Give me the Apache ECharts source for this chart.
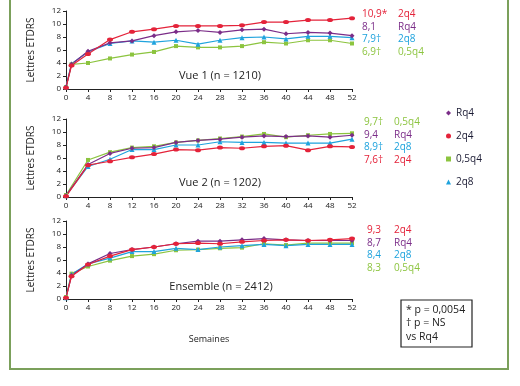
<!DOCTYPE html>
<html><head><meta charset="utf-8">
<script src="https://cdn.jsdelivr.net/npm/echarts@6/dist/echarts.min.js"></script>
<style>html,body{margin:0;padding:0;background:#fff}#c{width:520px;height:386px}</style>
</head><body><div id="c"></div>
<script>
// ---- data ----
var weeksA = [0, 1, 4, 8, 12, 16, 20, 24, 28, 32, 36, 40, 44, 48, 52];
var weeksB = [0, 4, 8, 12, 16, 20, 24, 28, 32, 36, 40, 44, 48, 52];
var seriesNames = ['Rq4', '2q4', '0,5q4', '2q8'];
var panelTitles = ['Vue 1 (n = 1210)', 'Vue 2 (n = 1202)', 'Ensemble (n = 2412)'];
var yTicks = [0, 2, 4, 6, 8, 10, 12];

// Vue 1 (weeksA)
var v1_Rq4  = [0.3, 3.8, 5.8, 7.1, 7.4, 8.2, 8.8, 9.0, 8.7, 9.1, 9.2, 8.5, 8.7, 8.6, 8.2];
var v1_2q4  = [0.2, 3.6, 5.4, 7.6, 8.8, 9.2, 9.7, 9.7, 9.7, 9.8, 10.3, 10.3, 10.6, 10.6, 10.9];
var v1_05q4 = [0.3, 3.8, 4.0, 4.7, 5.3, 5.7, 6.6, 6.4, 6.4, 6.6, 7.2, 7.0, 7.5, 7.5, 7.0];
var v1_2q8  = [0.3, 3.9, 5.7, 7.0, 7.4, 7.2, 7.5, 6.9, 7.5, 7.9, 8.0, 7.7, 8.1, 8.1, 7.9];
// Vue 2 (weeksB)
var v2_Rq4  = [0.2, 5.0, 6.7, 7.5, 7.6, 8.4, 8.7, 8.9, 9.2, 9.4, 9.3, 9.4, 9.2, 9.5];
var v2_2q4  = [0.1, 4.9, 5.5, 6.1, 6.6, 7.3, 7.2, 7.6, 7.5, 7.8, 7.9, 7.2, 7.8, 7.7];
var v2_05q4 = [0.3, 5.7, 6.9, 7.6, 7.8, 8.4, 8.7, 9.0, 9.3, 9.7, 9.2, 9.5, 9.7, 9.8];
var v2_2q8  = [0.2, 4.7, 5.8, 7.3, 7.3, 8.0, 8.0, 8.5, 8.4, 8.4, 8.3, 8.3, 8.3, 8.9];
// Ensemble (weeksA)
var e_Rq4  = [0.2, 3.6, 5.4, 7.0, 7.6, 8.0, 8.5, 8.9, 8.9, 9.1, 9.3, 9.1, 9.0, 9.0, 9.0];
var e_2q4  = [0.2, 3.5, 5.3, 6.6, 7.6, 8.0, 8.5, 8.6, 8.5, 8.8, 9.0, 9.1, 9.0, 9.1, 9.3];
var e_05q4 = [0.3, 3.9, 5.0, 5.9, 6.6, 6.9, 7.5, 7.6, 7.8, 7.9, 8.5, 8.3, 8.6, 8.6, 8.6];
var e_2q8  = [0.2, 3.8, 5.4, 6.3, 7.3, 7.3, 7.8, 7.6, 8.0, 8.2, 8.4, 8.2, 8.4, 8.4, 8.4];

// end-of-line annotations [value text, series name]
var endLabels1 = [['10,9*', '2q4'], ['8,1', 'Rq4'], ['7,9†', '2q8'], ['6,9†', '0,5q4']];
var endLabels2 = [['9,7†', '0,5q4'], ['9,4', 'Rq4'], ['8,9†', '2q8'], ['7,6†', '2q4']];
var endLabels3 = [['9,3', '2q4'], ['8,7', 'Rq4'], ['8,4', '2q8'], ['8,3', '0,5q4']];
var footnote = ['* p = 0,0054', '† p = NS', 'vs Rq4'];

// ---- styles ----
var FONT = 'Open Sans';
var colors = {'Rq4': '#7b2d88', '2q4': '#e4233a', '0,5q4': '#8cc43f', '2q8': '#1fa3dd'};
var symbols = {'Rq4': 'diamond', '2q4': 'circle', '0,5q4': 'rect', '2q8': 'triangle'};
var symSizes = {'Rq4': 5, '2q4': [6, 4], '0,5q4': 4, '2q8': 5};

var grids = [
  {left: 66, right: 168, top: 11, height: 78},
  {left: 66, right: 168, top: 119, height: 78},
  {left: 66, right: 168, top: 221, height: 78}
];

function mkX(i) {
  return {type: 'value', gridIndex: i, min: 0, max: 52, interval: 4,
    axisLine: {show: true, lineStyle: {color: '#222', width: 1}},
    axisTick: {show: true, length: 3, lineStyle: {color: '#222'}},
    axisLabel: {fontFamily: FONT, fontSize: 8, color: '#222', margin: 5},
    splitLine: {show: false},
    name: i === 2 ? 'Semaines' : '', nameLocation: 'middle', nameGap: 36,
    nameTextStyle: {fontFamily: FONT, fontSize: 9, color: '#222'}};
}
function mkY(i) {
  return {type: 'value', gridIndex: i, min: yTicks[0], max: yTicks[yTicks.length - 1], interval: 2,
    axisLine: {show: true, lineStyle: {color: '#222', width: 1}},
    axisTick: {show: true, length: 3, lineStyle: {color: '#222'}},
    axisLabel: {fontFamily: FONT, fontSize: 8, color: '#222', margin: 5},
    splitLine: {show: false},
    name: 'Lettres ETDRS', nameLocation: 'middle', nameGap: 30, nameRotate: 90,
    nameTextStyle: {fontFamily: FONT, fontSize: 10, color: '#222'}};
}

var panels = [
  {x: weeksA, d: {'Rq4': v1_Rq4, '2q4': v1_2q4, '0,5q4': v1_05q4, '2q8': v1_2q8}},
  {x: weeksB, d: {'Rq4': v2_Rq4, '2q4': v2_2q4, '0,5q4': v2_05q4, '2q8': v2_2q8}},
  {x: weeksA, d: {'Rq4': e_Rq4, '2q4': e_2q4, '0,5q4': e_05q4, '2q8': e_2q8}}
];
var drawOrder = ['0,5q4', '2q8', 'Rq4', '2q4'];
var series = [];
panels.forEach(function (p, gi) {
  drawOrder.forEach(function (n) {
    series.push({
      type: 'line', name: n, xAxisIndex: gi, yAxisIndex: gi,
      data: p.x.map(function (w, k) { return [w, p.d[n][k]]; }),
      symbol: symbols[n], symbolSize: symSizes[n], showSymbol: true,
      itemStyle: {color: colors[n]},
      lineStyle: {color: colors[n], width: 1.2},
      animation: false, silent: true
    });
  });
});

var graphics = [
  {type: 'rect', shape: {x: 10, y: -10, width: 498, height: 379},
   style: {fill: 'none', stroke: '#7ba05b', lineWidth: 2}, silent: true}
];
var titlePos = [[220, 76], [220, 183], [221, 287]];
panelTitles.forEach(function (t, i) {
  graphics.push({type: 'text', x: titlePos[i][0], y: titlePos[i][1],
    style: {text: t, fontFamily: FONT, fontSize: 11, fill: '#222', align: 'center', verticalAlign: 'middle'}});
});
function addEnd(list, y0, dy, xv, xn) {
  list.forEach(function (e, k) {
    var c = colors[e[1]];
    graphics.push({type: 'text', x: xv, y: y0 + k * dy,
      style: {text: e[0], fontFamily: FONT, fontSize: 10, fill: c, align: 'left', verticalAlign: 'middle'}});
    graphics.push({type: 'text', x: xn, y: y0 + k * dy,
      style: {text: e[1], fontFamily: FONT, fontSize: 10, fill: c, align: 'left', verticalAlign: 'middle'}});
  });
}
addEnd(endLabels1, 14, 12.7, 362, 398);
addEnd(endLabels2, 122, 12.7, 364, 394);
addEnd(endLabels3, 230, 12.7, 367, 394);

graphics.push({type: 'rect', shape: {x: 401, y: 300, width: 71, height: 47},
  style: {fill: '#fff', stroke: '#222', lineWidth: 1.2}});
footnote.forEach(function (t, k) {
  graphics.push({type: 'text', x: 406, y: 310 + k * 13.5,
    style: {text: t, fontFamily: FONT, fontSize: 10.5, fill: '#222', align: 'left', verticalAlign: 'middle'}});
});

var chart = echarts.init(document.getElementById('c'), null, {renderer: 'canvas'});
chart.setOption({
  backgroundColor: '#fff',
  animation: false,
  grid: grids,
  xAxis: [mkX(0), mkX(1), mkX(2)],
  yAxis: [mkY(0), mkY(1), mkY(2)],
  legend: {
    orient: 'vertical', left: 441, top: 103, itemGap: 13, itemWidth: 5, itemHeight: 5,
    selectedMode: false,
    textStyle: {fontFamily: FONT, fontSize: 10, color: '#1a1a33'},
    data: seriesNames.map(function (n) { return {name: n, icon: symbols[n]}; })
  },
  series: series,
  graphic: graphics
});
</script></body></html>
